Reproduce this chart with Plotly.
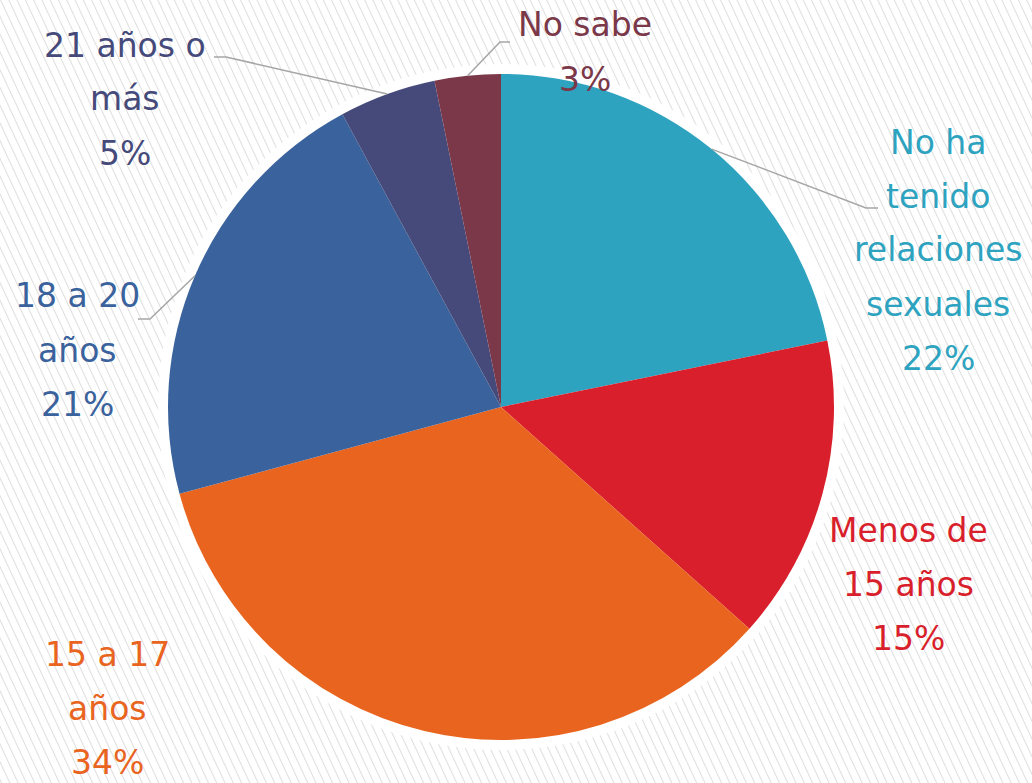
import math
import base64
import plotly.graph_objects as go

# ---- data ----
categories = ["No ha tenido relaciones sexuales", "Menos de 15 años", "15 a 17 años",
              "18 a 20 años", "21 años o más", "No sabe"]
values = [21.8, 14.8, 34.2, 21.3, 4.7, 3.2]
colors = ["#2EA3C0", "#D91F2B", "#E9641E", "#3A629C", "#454A7A", "#7A3849"]
label_lines = [["No ha", "tenido", "relaciones", "sexuales"],
               ["Menos de", "15 años"],
               ["15 a 17", "años"],
               ["18 a 20", "años"],
               ["21 años o", "más"],
               ["No sabe"]]

W, H = 1032, 783
CX, CY, R = 501, 407, 333
FONT = "DejaVu Sans"
FS = 33
LINE_H = 54

def px(x):
    return x / W

def py(y):
    return 1 - y / H

# hatched background as an SVG image
svg = f"""<svg xmlns='http://www.w3.org/2000/svg' width='{W}' height='{H}'>
<defs><pattern id='p' width='7.5' height='7.5' patternUnits='userSpaceOnUse' patternTransform='rotate(-25)'>
<rect width='7.5' height='7.5' fill='white'/><line x1='0.5' y1='0' x2='0.5' y2='7.5' stroke='#dedede' stroke-width='1'/>
</pattern></defs><rect width='{W}' height='{H}' fill='url(#p)'/></svg>"""
bg_src = "data:image/svg+xml;base64," + base64.b64encode(svg.encode()).decode()

fig = go.Figure()

# white halo behind pie
RH = R + 10
fig.add_trace(go.Pie(values=[1], marker=dict(colors=["rgba(255,255,255,0.95)"]),
                     textinfo="none", hoverinfo="skip", showlegend=False, sort=False,
                     domain=dict(x=[px(CX - RH), px(CX + RH)], y=[py(CY + RH), py(CY - RH)])))

fig.add_trace(go.Pie(labels=categories, values=values, sort=False, direction="clockwise",
                     rotation=0, marker=dict(colors=colors, line=dict(width=0)),
                     textinfo="none", showlegend=False,
                     domain=dict(x=[px(CX - R), px(CX + R)], y=[py(CY + R), py(CY - R)])))

# label positions (pixel centers x, first line center y) and leader elbows
label_pos = [(938, 142), (908, 530), (107, 654), (77, 296), (125, 45), (585, 25)]
elbows = {0: ((878, 208), (866, 208)),
          3: ((138, 319), (150, 319)),
          4: ((214, 57), (226, 57)),
          5: ((510, 42), (500, 42))}

total = sum(values)
cum = 0
annotations = []
shapes = []
for i, v in enumerate(values):
    mid = (cum + v / 2) / total * 2 * math.pi
    cum += v
    ex = CX + R * math.sin(mid)
    ey = CY - R * math.cos(mid)
    lines = label_lines[i] + [f"{round(v / total * 100):.0f}%"]
    lx, ly = label_pos[i]
    for k, t in enumerate(lines):
        annotations.append(dict(x=px(lx), y=py(ly + k * LINE_H), xref="paper", yref="paper",
                                text=t, showarrow=False, xanchor="center", yanchor="middle",
                                font=dict(family=FONT, size=FS, color=colors[i])))
    if i in elbows:
        (ax, ay), (bx, by) = elbows[i]
        shapes.append(dict(type="path", xref="paper", yref="paper",
                           path=f"M {px(ax)} {py(ay)} L {px(bx)} {py(by)} L {px(ex)} {py(ey)}",
                           line=dict(color="#a6a6a6", width=1.5)))

fig.update_layout(width=W, height=H, margin=dict(l=0, r=0, t=0, b=0),
                  paper_bgcolor="white", plot_bgcolor="white",
                  images=[dict(source=bg_src, xref="paper", yref="paper", x=0, y=1,
                               sizex=1, sizey=1, xanchor="left", yanchor="top",
                               sizing="stretch", layer="below")],
                  annotations=annotations, shapes=shapes, showlegend=False)

fig.write_html("out.html", config={"displayModeBar": False},
               post_script="document.body.style.margin='0';")
